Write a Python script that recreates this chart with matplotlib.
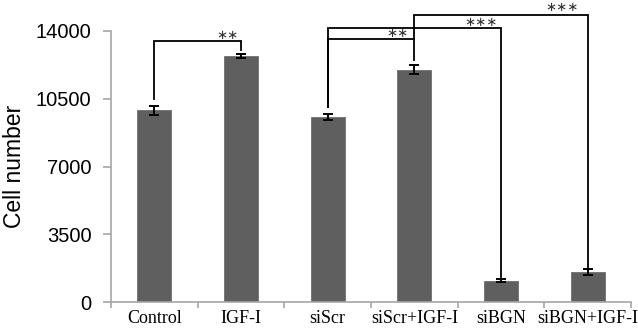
import numpy as np
import matplotlib
matplotlib.use("Agg")
import matplotlib.pyplot as plt
from matplotlib.ticker import FixedLocator

# data
groups = ["Control", "IGF-I", "siScr", "siScr+IGF-I", "siBGN", "siBGN+IGF-I"]
cell_number = [9900, 12700, 9550, 12000, 1100, 1550]
cell_err = [250, 100, 150, 240, 90, 140]
y_ticks = [0, 3500, 7000, 10500, 14000]

# significance brackets: (left group, right group, line height, left leg end, right leg end, label)
brackets = [
    (0, 1, 13480, 10490, 13020, "**"),
    (2, 3, 13570, 10050, 13570, "**"),
    (2, 4, 14140, 10050, 1280, "***"),
    (3, 5, 14840, 12500, 1780, "***"),
]

BAR = "#5f5f5f"
GRID = "#a6a6a6"

fig = plt.figure(figsize=(6.38, 3.30), dpi=100)
ax = fig.add_axes([111 / 638, 28 / 330, 520 / 638, 271 / 330])

x = np.arange(len(groups))
ax.bar(x, cell_number, width=0.39, color=BAR, edgecolor="#6e6e6e", linewidth=0.6, zorder=2)
ax.errorbar(x, cell_number, yerr=cell_err, fmt="none", ecolor="black",
            elinewidth=1.4, capsize=3.3, capthick=1.4, zorder=3)

ax.set_xlim(-0.5, len(groups) - 0.5)
ax.set_ylim(0, 14000)

for s in ("top", "right"):
    ax.spines[s].set_visible(False)
for s in ("left", "bottom"):
    ax.spines[s].set_color(GRID)
    ax.spines[s].set_linewidth(1.2)

ax.set_yticks(y_ticks)
ax.set_yticklabels([str(v) for v in y_ticks], family="Liberation Sans", fontsize=14.5)
ax.tick_params(axis="y", length=6, width=1.2, color=GRID, pad=8)

ax.set_xticks(x)
ax.set_xticklabels(groups, family="Liberation Serif", fontsize=13)
ax.tick_params(axis="x", which="major", length=0, pad=6)
ax.xaxis.set_minor_locator(FixedLocator(np.arange(-0.5, len(groups), 1.0)))
ax.tick_params(axis="x", which="minor", length=4, width=1.2, color=GRID)

ax.set_ylabel("Cell number", family="Liberation Sans", fontsize=16.5)
ax.yaxis.set_label_coords(-0.163, 0.5)

star_pos = [(0.84, 13790), (2.81, 13890), (3.77, 14420), (4.70, 15190)]
for (i, j, h, l_end, r_end, lab), (sx, sy) in zip(brackets, star_pos):
    ax.plot([i, i, j, j], [l_end, h, h, r_end], color="black", lw=1.3,
            clip_on=False, zorder=4, solid_joinstyle="miter")
    ax.text(sx, sy, "\u2217" * len(lab), ha="center", va="center", fontsize=9.5,
            color="#333333", family="DejaVu Sans", clip_on=False)

fig.savefig("out.png", dpi=100)
